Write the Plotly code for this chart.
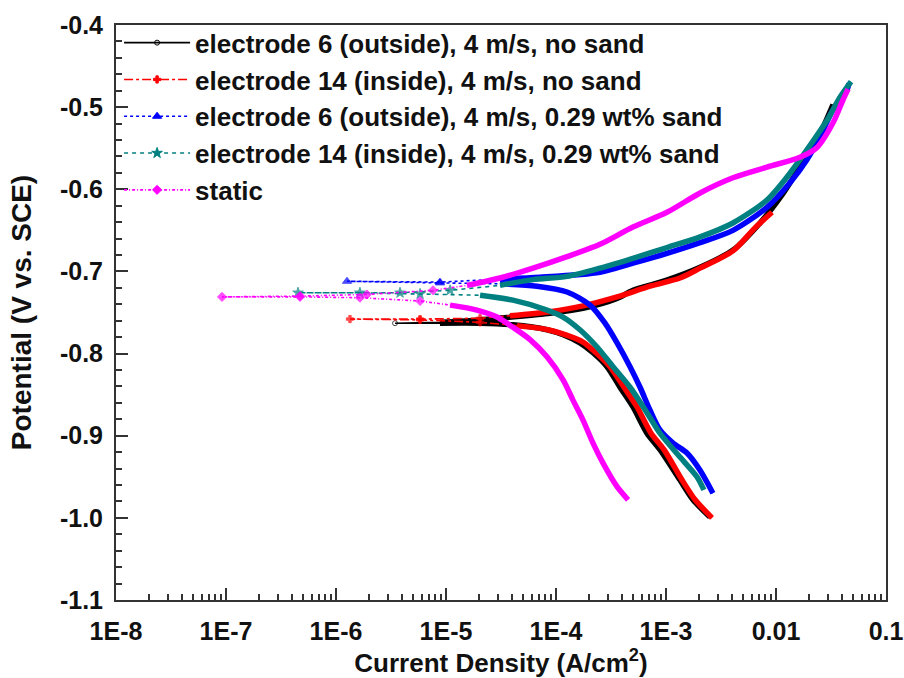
import plotly.graph_objects as go

# ---------------- data (current density A/cm^2, potential V vs SCE) ----------------
series_names = [
    "electrode 6 (outside), 4 m/s, no sand",
    "electrode 14 (inside), 4 m/s, no sand",
    "electrode 6 (outside), 4 m/s, 0.29 wt% sand",
    "electrode 14 (inside), 4 m/s, 0.29 wt% sand",
    "static",
]

e6_nosand_i = [2.51e-3, 1.76e-3, 1.34e-3, 8.81e-4, 6.71e-4, 5.01e-4, 3.82e-4, 2.91e-4, 2.17e-4,
               1.65e-4, 1.16e-4, 8.28e-5, 4.06e-5, 2.04e-5, 8.81e-6, 3.44e-6,
               8.81e-6, 2.04e-5, 3.59e-5, 8.81e-5, 1.76e-4, 3.59e-4, 5.01e-4, 1.00e-3, 2.04e-3,
               4.07e-3, 7.16e-3, 1.16e-2, 1.65e-2, 2.36e-2, 3.30e-2]
e6_nosand_e = [-0.999, -0.978, -0.954, -0.917, -0.897, -0.865, -0.841, -0.816, -0.799,
               -0.787, -0.777, -0.771, -0.765, -0.763, -0.763, -0.763,
               -0.762, -0.759, -0.756, -0.751, -0.745, -0.733, -0.723, -0.711, -0.695,
               -0.674, -0.641, -0.605, -0.573, -0.540, -0.497]

e14_nosand_i = [2.62e-3, 1.84e-3, 1.40e-3, 9.59e-4, 7.31e-4, 5.45e-4, 4.15e-4, 3.10e-4, 2.31e-4,
                1.76e-4, 1.21e-4, 8.45e-5, 4.42e-5, 2.04e-5, 5.81e-6, 1.34e-6,
                5.81e-6, 2.04e-5, 3.82e-5, 8.81e-5, 1.76e-4, 3.59e-4, 7.16e-4, 1.34e-3, 2.04e-3,
                4.06e-3, 6.44e-3, 9.20e-3]
e14_nosand_e = [-1.000, -0.978, -0.954, -0.917, -0.897, -0.865, -0.841, -0.816, -0.799,
                -0.786, -0.777, -0.771, -0.766, -0.762, -0.759, -0.758,
                -0.758, -0.757, -0.754, -0.749, -0.742, -0.731, -0.718, -0.708, -0.696,
                -0.675, -0.647, -0.628]

e6_sand_i = [2.67e-3, 2.04e-3, 1.55e-3, 1.16e-3, 8.81e-4, 7.16e-4, 5.81e-4, 4.71e-4, 3.59e-4,
             2.79e-4, 2.04e-4, 1.26e-4, 6.71e-5, 3.10e-5, 8.81e-6, 1.26e-6,
             8.81e-6, 3.10e-5, 7.16e-5, 2.51e-4, 5.01e-4, 1.02e-3, 2.04e-3, 4.06e-3, 8.28e-3,
             1.34e-2, 1.91e-2, 2.51e-2, 3.30e-2, 4.42e-2, 4.61e-2]
e6_sand_e = [-0.970, -0.942, -0.921, -0.909, -0.893, -0.869, -0.841, -0.816, -0.787,
             -0.763, -0.741, -0.725, -0.718, -0.715, -0.714, -0.712,
             -0.713, -0.709, -0.707, -0.701, -0.690, -0.678, -0.665, -0.650, -0.622,
             -0.592, -0.564, -0.536, -0.503, -0.479, -0.471]

e14_sand_i = [2.21e-3, 1.91e-3, 1.34e-3, 8.81e-4, 6.71e-4, 4.71e-4, 3.30e-4, 2.36e-4, 1.65e-4,
              1.16e-4, 8.28e-5, 4.06e-5, 2.04e-5, 5.81e-6, 1.65e-6, 4.52e-7,
              3.82e-6, 1.09e-5, 3.10e-5, 6.18e-5, 1.26e-4, 2.51e-4, 5.01e-4, 1.02e-3, 2.04e-3,
              4.06e-3, 8.28e-3, 1.26e-2, 1.91e-2, 2.91e-2, 3.82e-2, 4.81e-2]
e14_sand_e = [-0.966, -0.950, -0.926, -0.897, -0.872, -0.841, -0.816, -0.792, -0.771,
              -0.7555, -0.747, -0.735, -0.729, -0.7275, -0.726, -0.726,
              -0.726, -0.723, -0.717, -0.710, -0.706, -0.696, -0.684, -0.671, -0.658,
              -0.641, -0.613, -0.585, -0.552, -0.516, -0.488, -0.469]

static_i = [4.52e-4, 3.59e-4, 2.67e-4, 2.17e-4, 1.76e-4, 1.43e-4, 1.16e-4, 8.28e-5, 5.81e-5,
            4.06e-5, 2.91e-5, 1.91e-5, 1.09e-5, 5.81e-6, 1.65e-6, 4.71e-7, 9.20e-8,
            4.71e-7, 1.91e-6, 7.62e-6, 1.55e-5, 3.10e-5, 6.18e-5, 1.26e-4, 2.51e-4, 5.01e-4,
            1.02e-3, 2.04e-3, 4.06e-3, 8.28e-3, 1.65e-2, 2.36e-2, 3.30e-2, 4.07e-2, 4.52e-2]
static_e = [-0.978, -0.962, -0.933, -0.909, -0.881, -0.857, -0.832, -0.804, -0.783,
            -0.768, -0.7555, -0.747, -0.741, -0.736, -0.732, -0.731, -0.731,
            -0.730, -0.728, -0.723, -0.717, -0.708, -0.696, -0.682, -0.667, -0.646,
            -0.628, -0.6045, -0.586, -0.573, -0.561, -0.549, -0.519, -0.491, -0.478]

y_tick_vals = [-1.1, -1.0, -0.9, -0.8, -0.7, -0.6, -0.5, -0.4]
y_tick_text = ["-1.1", "-1.0", "-0.9", "-0.8", "-0.7", "-0.6", "-0.5", "-0.4"]
x_tick_vals = [1e-8, 1e-7, 1e-6, 1e-5, 1e-4, 1e-3, 1e-2, 1e-1]
x_tick_text = ["1E-8", "1E-7", "1E-6", "1E-5", "1E-4", "1E-3", "0.01", "0.1"]

# ---------------- styles ----------------
xs = [e6_nosand_i, e14_nosand_i, e6_sand_i, e14_sand_i, static_i]
ys = [e6_nosand_e, e14_nosand_e, e6_sand_e, e14_sand_e, static_e]
colors = ["#000000", "#ff0000", "#0000ff", "#008080", "#ff00ff"]
dashes = ["solid", "dashdot", "dot", "4px,4px", "3px,2px,1px,2px"]
symbols = ["circle-open", "cross", "triangle-up", "star", "diamond"]
msizes = [5, 6, 8, 8, 7]
dense_from = [5e-6, 3e-5, 3e-5, 2e-5, 1e-5]   # where the dense (thick) part of each scan begins

FONT = "Liberation Sans"
TXT = "#111111"
AX = "#333333"

fig = go.Figure()
for k in range(5):
    # sparse part of the scan: thin dashed line with symbols
    sizes = [msizes[k] if v < dense_from[k] else 0 for v in xs[k]]
    fig.add_trace(go.Scatter(
        x=xs[k], y=ys[k], mode="lines+markers", showlegend=False, hoverinfo="skip",
        line=dict(color=colors[k], width=1.6, dash=dashes[k]),
        marker=dict(symbol=symbols[k], size=sizes, color=colors[k],
                    line=dict(color=colors[k], width=1)),
    ))
    # dense part of the scan: thick band
    tx = [v if v >= dense_from[k] else None for v in xs[k]]
    ty = [e if v >= dense_from[k] else None for v, e in zip(xs[k], ys[k])]
    fig.add_trace(go.Scatter(
        x=tx, y=ty, mode="lines", showlegend=False, hoverinfo="skip",
        line=dict(color=colors[k], width=5.5, shape="spline", smoothing=0.8),
        connectgaps=False,
    ))

# legend entries
for k in range(5):
    fig.add_trace(go.Scatter(
        x=[None], y=[None], mode="lines+markers", name=series_names[k],
        line=dict(color=colors[k], width=1.6, dash=dashes[k]),
        marker=dict(symbol=symbols[k], size=msizes[k], color=colors[k],
                    line=dict(color=colors[k], width=1)),
    ))

axis_common = dict(
    showline=True, linecolor=AX, linewidth=2, mirror=True,
    ticks="inside", tickcolor=AX, tickwidth=1.5, ticklen=12,
    showgrid=False, zeroline=False, automargin=False,
    tickfont=dict(family=FONT, size=25, color=TXT, weight="bold"),
)

fig.update_xaxes(
    type="log", range=[-8, -1],
    tickmode="array", tickvals=x_tick_vals, ticktext=x_tick_text,
    minor=dict(ticks="inside", ticklen=6, tickcolor=AX, tickwidth=1.5,
               tickvals=[m * 10.0 ** d for d in range(-8, -1) for m in range(2, 10)]),
    ticklabelstandoff=8,
    title=dict(text="Current Density (A/cm<sup>2</sup>)", standoff=6,
               font=dict(family=FONT, size=26, color=TXT, weight="bold")),
    **axis_common,
)
fig.update_yaxes(
    range=[-1.1, -0.4],
    tickmode="array", tickvals=y_tick_vals, ticktext=y_tick_text,
    minor=dict(ticks="inside", ticklen=6, tickcolor=AX, tickwidth=1.5, dtick=0.02),
    ticklabelstandoff=6,
    title=dict(text="Potential (V vs. SCE)", standoff=20,
               font=dict(family=FONT, size=28, color=TXT, weight="bold")),
    **axis_common,
)

fig.update_layout(
    width=904, height=678,
    margin=dict(l=116, r=18, t=25, b=78),
    paper_bgcolor="white", plot_bgcolor="white",
    showlegend=True,
    legend=dict(
        x=0.004, y=1.01, xanchor="left", yanchor="top",
        bgcolor="rgba(0,0,0,0)", itemwidth=66,
        font=dict(family=FONT, size=26, color=TXT, weight="bold"),
        tracegroupgap=0,
    ),
)

fig.write_html("out.html")
